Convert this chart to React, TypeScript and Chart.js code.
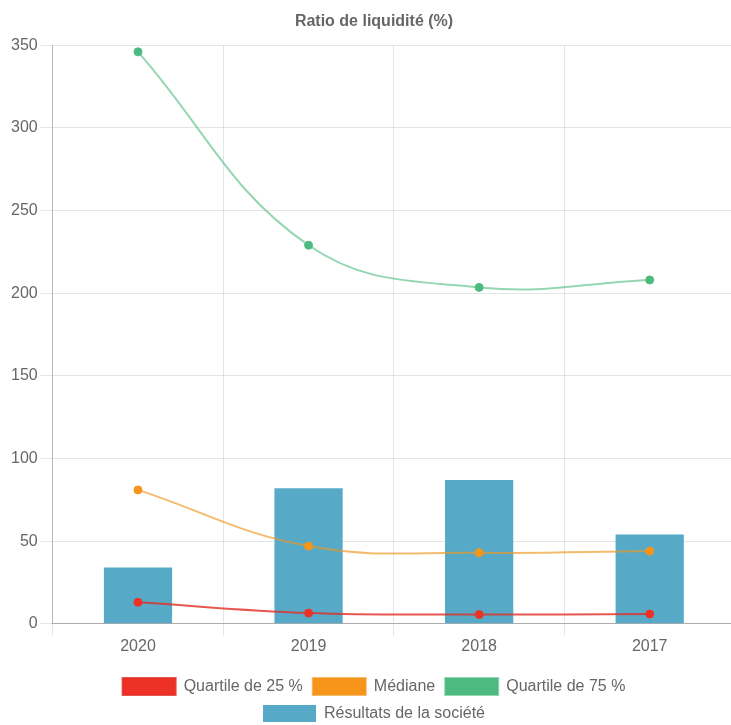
import React, { useEffect, useRef } from "react";
import { Chart, registerables } from "chart.js";

Chart.register(...registerables);

const categories = ["2020", "2019", "2018", "2017"];
const quartile25 = [13, 6.5, 5.6, 5.9];
const mediane = [81, 47, 43, 44];
const quartile75 = [346, 229, 203.5, 208];
const resultats = [34, 82, 87, 54];
const yTicks = [0, 50, 100, 150, 200, 250, 300, 350];

const RED = "rgb(238, 49, 39)";
const ORANGE = "rgb(247, 148, 26)";
const GREEN = "rgb(77, 187, 127)";
const BLUE = "rgb(86, 170, 200)";

export default function App() {
  const ref = useRef<HTMLCanvasElement | null>(null);
  useEffect(() => {
    if (!ref.current) return;
    document.documentElement.style.overflow = "hidden";
    Chart.defaults.font.family = "'Liberation Sans', Arial, sans-serif";
    Chart.defaults.font.size = 16;
    Chart.defaults.color = "#666";
    const lineDs = (label: string, data: number[], color: string, alphaColor: string) => ({
      type: "line" as const,
      label,
      data,
      borderColor: alphaColor,
      backgroundColor: color,
      pointBackgroundColor: color,
      pointBorderColor: color,
      pointRadius: 4,
      pointBorderWidth: 1,
      borderWidth: 2,
      tension: 0.4,
      fill: false,
      order: 0,
    });
    const chart = new Chart(ref.current, {
      type: "bar",
      data: {
        labels: categories,
        datasets: [
          lineDs("Quartile de 25 %", quartile25, RED, "rgba(225, 45, 35, 0.8)"),
          lineDs("Médiane", mediane, ORANGE, "rgba(240, 150, 30, 0.65)"),
          lineDs("Quartile de 75 %", quartile75, GREEN, "rgba(77, 187, 127, 0.6)"),
          {
            type: "bar" as const,
            label: "Résultats de la société",
            data: resultats,
            backgroundColor: BLUE,
            borderColor: BLUE,
            borderWidth: 0,
            barPercentage: 0.5,
            categoryPercentage: 0.8,
            order: 1,
          },
        ],
      },
      options: {
        animation: false,
        responsive: true,
        maintainAspectRatio: false,
        layout: { padding: { left: 0, right: 0, top: 0, bottom: 0 } },
        plugins: {
          title: {
            display: true,
            text: "Ratio de liquidité (%)",
            color: "#666",
            font: { size: 16, weight: "bold" },
            padding: { top: 4, bottom: 14 },
          },
          legend: {
            position: "bottom",
            labels: {
              boxWidth: 53,
              boxHeight: 17,
              padding: 10,
              color: "#666",
              font: { size: 16 },
            },
          },
          tooltip: { enabled: false },
        },
        scales: {
          x: {
            grid: {
              color: "rgba(0,0,0,0.1)",
              tickLength: 12,
              offset: true,
            },
            border: { color: "rgba(0,0,0,0.25)" },
            ticks: { padding: 1, color: "#666", font: { size: 16 } },
            afterFit: (scale: any) => {
              scale.height += 11;
            },
          },
          y: {
            min: 0,
            max: 350,
            afterBuildTicks: (axis: any) => {
              axis.ticks = yTicks.map((v) => ({ value: v }));
            },
            grid: { color: "rgba(0,0,0,0.1)", tickLength: 12 },
            border: { color: "rgba(0,0,0,0.2)" },
            ticks: { padding: 3, color: "#666", font: { size: 16 } },
          },
        },
      },
    });
    return () => chart.destroy();
  }, []);
  return (
    <div
      style={{
        position: "fixed",
        left: 8,
        top: 8,
        width: 723,
        height: 717,
        overflow: "hidden",
      }}
    >
      <div style={{ width: 732, height: 724, position: "relative" }}>
        <canvas ref={ref} />
      </div>
    </div>
  );
}
